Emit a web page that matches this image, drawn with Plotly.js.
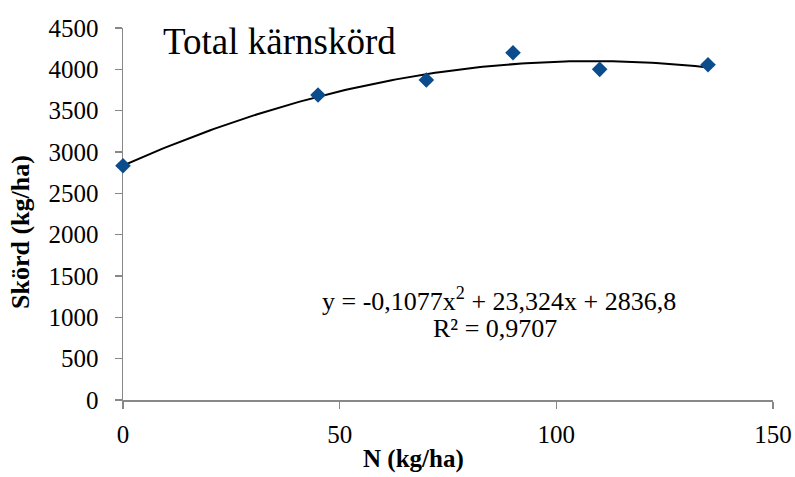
<!DOCTYPE html>
<html>
<head>
<meta charset="utf-8">
<script src="https://cdn.plot.ly/plotly-3.0.1.min.js"></script>
<style>html,body{margin:0;padding:0;background:#fff;}#chart{width:795px;height:477px;}</style>
</head>
<body>
<div id="chart"></div>
<script>
// Data
const nRates = [0, 45, 70, 90, 110, 135];          // N (kg/ha)
const yields = [2834, 3690, 3871, 4201, 4000, 4056]; // Skörd (kg/ha)
// Trendline coefficients as printed on the chart: y = a x^2 + b x + c
const trendCoef = [-0.1077, 23.324, 2836.8];
const eqLine = 'y = -0,1077x<sup>2</sup> + 23,324x + 2836,8';
const r2Line = 'R² = 0,9707';
const chartTitle = 'Total kärnskörd';
const xTitle = 'N (kg/ha)';
const yTitle = 'Skörd (kg/ha)';
const xTicks = [0, 50, 100, 150];
const yTicks = [0, 500, 1000, 1500, 2000, 2500, 3000, 3500, 4000, 4500];

const trendX = [];
const trendY = [];
for (let i = 0; i <= 135; i++) {
  trendX.push(i);
  trendY.push(trendCoef[0] * i * i + trendCoef[1] * i + trendCoef[2]);
}

const font = 'Liberation Serif, Times New Roman, serif';
const axisColor = '#888888';

const traces = [
  {x: trendX, y: trendY, mode: 'lines', type: 'scatter',
   line: {color: '#000000', width: 2}, hoverinfo: 'skip', cliponaxis: false},
  {x: nRates, y: yields, mode: 'markers', type: 'scatter',
   marker: {symbol: 'diamond', size: 12, color: '#0B4D8C'}, cliponaxis: false}
];

const layout = {
  width: 795, height: 477, autosize: false,
  showlegend: false,
  paper_bgcolor: '#ffffff', plot_bgcolor: '#ffffff',
  margin: {l: 123, r: 22, t: 28, b: 77},
  font: {family: font, color: '#000000', size: 25},
  title: {text: chartTitle, xref: 'container', yref: 'container',
          x: 163/795, xanchor: 'left', y: 1 - 41/477, yanchor: 'middle',
          font: {family: font, size: 37, color: '#000000'}},
  xaxis: {range: [0, 150], tickvals: xTicks, ticktext: xTicks.map(String),
          showline: true, linecolor: axisColor, linewidth: 1.5,
          ticks: 'outside', ticklen: 7, tickwidth: 1.5, tickcolor: axisColor,
          showgrid: false, zeroline: false, layer: 'below traces',
          ticklabelstandoff: 4,
          tickfont: {family: font, size: 25, color: '#000000'}, fixedrange: true},
  yaxis: {range: [0, 4500], tickvals: yTicks, ticktext: yTicks.map(String),
          showline: true, linecolor: axisColor, linewidth: 1.5,
          ticks: 'outside', ticklen: 7, tickwidth: 1.5, tickcolor: axisColor,
          showgrid: false, zeroline: false, layer: 'below traces',
          ticklabelstandoff: 11,
          tickfont: {family: font, size: 25, color: '#000000'}, fixedrange: true},
  annotations: [
    {text: eqLine, xref: 'paper', yref: 'paper',
     x: (499 - 123) / 650, y: (400 - 299) / 372,
     showarrow: false, xanchor: 'center', yanchor: 'middle',
     font: {family: font, size: 26, color: '#000000'}},
    {text: r2Line, xref: 'paper', yref: 'paper',
     x: (495 - 123) / 650, y: (400 - 328) / 372,
     showarrow: false, xanchor: 'center', yanchor: 'middle',
     font: {family: font, size: 26, color: '#000000'}},
    {text: '<b>' + xTitle + '</b>', xref: 'paper', yref: 'paper',
     x: (413 - 123) / 650, y: (400 - 459) / 372, showarrow: false,
     xanchor: 'center', yanchor: 'middle',
     font: {family: font, size: 25, color: '#000000'}},
    {text: '<b>' + yTitle + '</b>', xref: 'paper', yref: 'paper',
     x: (21 - 123) / 650, y: (400 - 232) / 372, showarrow: false, textangle: -90,
     xanchor: 'center', yanchor: 'middle',
     font: {family: font, size: 26, color: '#000000'}}
  ]
};

Plotly.newPlot('chart', traces, layout, {displayModeBar: false, staticPlot: true});
</script>
</body>
</html>
